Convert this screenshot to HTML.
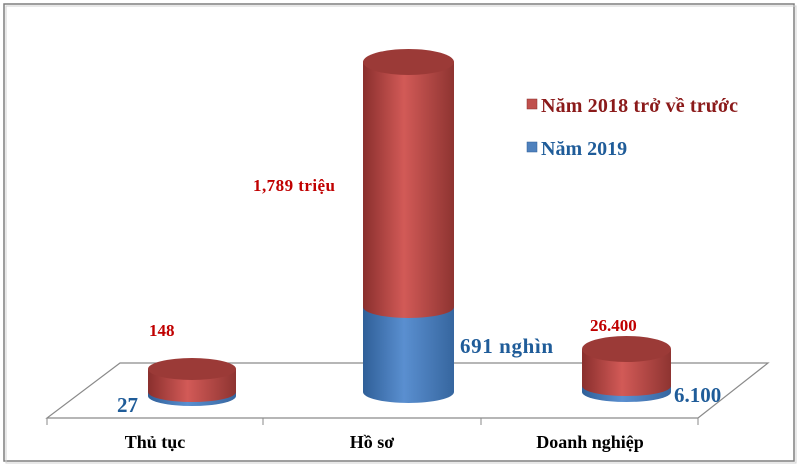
<!DOCTYPE html>
<html><head><meta charset="utf-8"><style>
body{margin:0;background:#fff}
svg{display:block}
text{font-family:"Liberation Serif",serif;font-weight:bold}
</style></head><body>
<svg width="800" height="467" viewBox="0 0 800 467">
<defs>
<linearGradient id="r" x1="0" x2="1" y1="0" y2="0">
<stop offset="0" stop-color="#8a2f2d"/><stop offset="0.45" stop-color="#d25a57"/><stop offset="1" stop-color="#8e3431"/>
</linearGradient>
<linearGradient id="b" x1="0" x2="1" y1="0" y2="0">
<stop offset="0" stop-color="#2f5f98"/><stop offset="0.45" stop-color="#5a8fd0"/><stop offset="1" stop-color="#36669f"/>
</linearGradient>
</defs>
<rect x="0" y="0" width="800" height="467" fill="#fff"/>
<rect x="4" y="4" width="790" height="457" fill="none" stroke="#7f7f7f" stroke-width="1.5"/>
<rect x="6" y="6" width="790" height="457" fill="none" stroke="#d0d0d0" stroke-width="1"/>
<polygon points="120,363 768,363 698,418 47,418" fill="#fff" stroke="#8a8a8a" stroke-width="1.2"/>
<line x1="47" y1="418" x2="47" y2="425" stroke="#8a8a8a"/>
<line x1="263" y1="418" x2="263" y2="425" stroke="#8a8a8a"/>
<line x1="481" y1="418" x2="481" y2="425" stroke="#8a8a8a"/>
<line x1="698" y1="418" x2="698" y2="425" stroke="#8a8a8a"/>
<path d="M148,392 L148,396 A44,10 0 0 0 236,396 L236,392 Z" fill="url(#b)"/>
<path d="M148,369 L148,392 A44,10 0 0 0 236,392 L236,369 Z" fill="url(#r)"/>
<ellipse cx="192" cy="369" rx="44" ry="11" fill="#9b3a37"/>
<path d="M363,307 L363,392 A45.5,11 0 0 0 454,392 L454,307 Z" fill="url(#b)"/>
<path d="M363,62 L363,307 A45.5,11 0 0 0 454,307 L454,62 Z" fill="url(#r)"/>
<ellipse cx="408.5" cy="62" rx="45.5" ry="13" fill="#9b3a37"/>
<path d="M582,386 L582,392 A44.5,10 0 0 0 671,392 L671,386 Z" fill="url(#b)"/>
<path d="M582,349 L582,386 A44.5,10 0 0 0 671,386 L671,349 Z" fill="url(#r)"/>
<ellipse cx="626.5" cy="349" rx="44.5" ry="13" fill="#9b3a37"/>
<g fill="#c00000" font-size="17">
<text x="149" y="336">148</text>
<text x="253" y="191" textLength="82">1,789 triệu</text>
<text x="590" y="331">26.400</text>
</g>
<g fill="#1f5c99" font-size="21">
<text x="117" y="412">27</text>
<text x="460" y="353" textLength="93">691 nghìn</text>
<text x="674" y="402">6.100</text>
</g>
<g fill="#000" font-size="18" text-anchor="middle">
<text x="155" y="448">Thủ tục</text>
<text x="372" y="448">Hồ sơ</text>
<text x="590" y="448">Doanh nghiệp</text>
</g>
<rect x="527" y="99" width="10" height="10" fill="#c0504d" stroke="#8a2f2d" stroke-width="0.5"/>
<text x="541" y="112" fill="#8b1a1a" font-size="20" textLength="197">Năm 2018 trở về trước</text>
<rect x="527" y="142" width="10" height="10" fill="#4f81bd" stroke="#2f5f98" stroke-width="0.5"/>
<text x="541" y="155" fill="#1f5c99" font-size="20">Năm 2019</text>
</svg>
</body></html>
